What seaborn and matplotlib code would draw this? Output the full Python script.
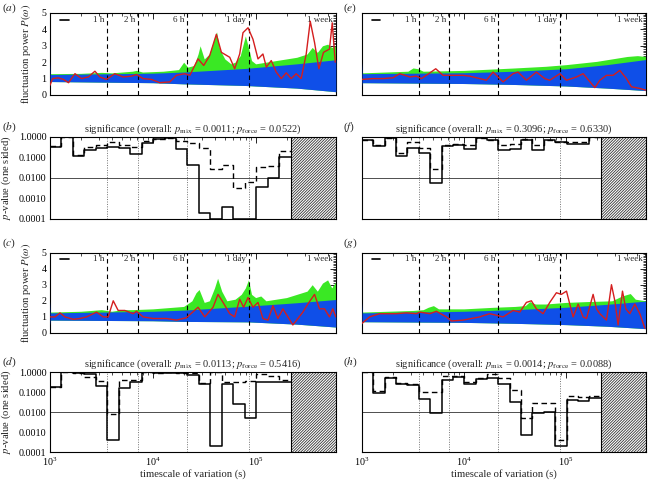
import numpy as np
import matplotlib
matplotlib.use("Agg")
import matplotlib.pyplot as plt
import seaborn as sns
from matplotlib.ticker import LogLocator, MultipleLocator, FuncFormatter, NullFormatter, FixedLocator

sns.set_theme(style="white")
plt.rcParams['font.family'] = ['Liberation Serif', 'DejaVu Serif']
plt.rcParams['mathtext.fontset'] = 'stix'
plt.rcParams['hatch.linewidth'] = 0.6
plt.rcParams['axes.edgecolor'] = 'black'
plt.rcParams['axes.linewidth'] = 0.8

BLUE = '#0f4fe8'
GREEN = '#3ae824'
RED = '#d41e1e'

# time markers (s)
mark_names = ['1 h', '2 h', '6 h', '1 day']
mark_secs = [3600, 7200, 21600, 86400]
t_max = 604800          # 1 week
hatch_start = 10**5.34  # no data beyond here
bin_edges = np.logspace(3, 5.34, 22)

# ---------- power spectra (log10 timescale, power) ----------
# (a)
a_band_t = [3.0, 3.004, 4.0, 4.3, 4.9, 5.4, 5.78]
a_band_lo = [0.5, 0.82, 0.75, 0.68, 0.58, 0.42, 0.2]
a_band_hi = [2.1, 1.25, 1.33, 1.4, 1.62, 1.9, 2.15]
a_green_t = [3.0, 3.3, 3.5, 3.6, 3.8, 3.84, 3.9, 4.1, 4.25, 4.3, 4.34, 4.4, 4.44, 4.46, 4.5, 4.55,
             4.6, 4.62, 4.65, 4.7, 4.76, 4.8, 4.85, 4.9, 4.93, 4.96, 5.0, 5.1, 5.2, 5.3, 5.4, 5.5,
             5.55, 5.6, 5.65, 5.7, 5.74, 5.78]
a_green_p = [1.3, 1.32, 1.38, 1.35, 1.45, 1.5, 1.4, 1.45, 1.55, 2.0, 1.7, 1.8, 2.5, 3.0, 2.2, 2.5,
             3.5, 3.85, 2.8, 2.2, 1.9, 2.0, 2.4, 3.6, 2.9, 2.1, 1.9, 2.0, 2.1, 2.2, 2.3, 2.5,
             2.9, 2.6, 3.0, 3.1, 2.9, 3.0]
a_red_t = [3.0, 3.026, 3.08, 3.13, 3.18, 3.243, 3.307, 3.372, 3.437, 3.485, 3.55, 3.63, 3.712, 3.793,
           3.841, 3.906, 3.987, 4.068, 4.165, 4.23, 4.31, 4.36, 4.44, 4.495, 4.553, 4.618, 4.667,
           4.748, 4.796, 4.845, 4.877, 4.926, 4.974, 5.023, 5.071, 5.104, 5.152, 5.2, 5.249, 5.298,
           5.346, 5.395, 5.443, 5.492, 5.531, 5.573, 5.615, 5.66, 5.718, 5.745, 5.774]
a_red_p = [0.6, 1.0, 1.05, 0.95, 0.75, 1.3, 1.0, 1.1, 1.45, 1.1, 0.95, 1.3, 1.1, 1.15,
           1.25, 1.0, 0.95, 0.75, 0.8, 1.2, 1.3, 1.2, 2.2, 1.8, 2.4, 3.7, 2.6,
           2.3, 1.6, 2.5, 3.8, 4.1, 3.4, 2.2, 2.5, 1.7, 2.1, 1.4, 1.0, 1.35,
           1.0, 1.3, 1.0, 2.5, 4.5, 3.2, 1.6, 2.6, 2.8, 4.4, 2.0]

# (c)
c_band_t = [3.0, 3.004, 4.0, 4.3, 4.93, 5.4, 5.78]
c_band_lo = [0.5, 0.8, 0.76, 0.72, 0.69, 0.55, 0.37]
c_band_hi = [2.0, 1.25, 1.35, 1.42, 1.67, 1.88, 2.08]
c_green_t = [3.0, 3.3, 3.5, 3.6, 3.7, 3.8, 4.0, 4.2, 4.3, 4.38, 4.42, 4.45, 4.5, 4.55, 4.6, 4.63,
             4.67, 4.72, 4.8, 4.86, 4.9, 4.93, 4.96, 5.0, 5.05, 5.1, 5.2, 5.3, 5.4, 5.5, 5.55, 5.6,
             5.65, 5.7, 5.74, 5.78]
c_green_p = [1.3, 1.35, 1.45, 1.35, 1.45, 1.45, 1.5, 1.6, 1.65, 2.0, 2.5, 2.7, 1.9, 2.0, 2.8, 3.4,
             2.6, 2.0, 2.1, 2.4, 2.8, 3.3, 2.4, 2.2, 2.3, 2.0, 2.1, 2.2, 2.4, 2.6, 3.0, 2.6,
             3.1, 3.3, 2.8, 3.2]
c_red_t = [3.0, 3.049, 3.097, 3.146, 3.227, 3.291, 3.356, 3.453, 3.518, 3.566, 3.615, 3.663, 3.728,
           3.809, 3.841, 3.906, 4.003, 4.133, 4.23, 4.327, 4.44, 4.505, 4.586, 4.634, 4.683, 4.748,
           4.796, 4.845, 4.883, 4.926, 4.974, 5.023, 5.071, 5.12, 5.168, 5.217, 5.265, 5.314, 5.362,
           5.411, 5.46, 5.508, 5.573, 5.621, 5.67, 5.718, 5.75, 5.78]
c_red_p = [1.0, 1.0, 1.25, 1.0, 0.85, 0.9, 1.0, 1.3, 1.0, 1.0, 2.0, 1.4, 1.4,
           1.2, 1.35, 1.0, 0.9, 0.9, 0.8, 0.95, 1.6, 1.0, 1.6, 2.4, 1.9, 1.2,
           1.0, 2.1, 1.6, 2.2, 1.6, 1.9, 0.9, 0.8, 1.7, 0.9, 1.5, 1.0, 0.5,
           0.9, 1.3, 1.8, 2.4, 1.5, 1.5, 1.0, 1.5, 1.0]

# (e)
e_band_t = [3.0, 3.004, 4.0, 4.5, 5.0, 5.4, 5.78]
e_band_lo = [0.5, 0.75, 0.7, 0.64, 0.55, 0.42, 0.27]
e_band_hi = [2.0, 1.3, 1.36, 1.45, 1.6, 1.85, 2.16]
e_green_t = [3.0, 3.45, 3.5, 3.55, 3.6, 4.0, 4.5, 4.8, 5.0, 5.3, 5.5, 5.6, 5.7, 5.78]
e_green_p = [1.35, 1.45, 1.65, 1.6, 1.45, 1.5, 1.65, 1.75, 1.85, 2.05, 2.25, 2.35, 2.4, 2.35]
e_red_t = [3.0, 3.108, 3.206, 3.304, 3.37, 3.468, 3.533, 3.582, 3.631, 3.723, 3.795, 3.99, 4.056,
           4.154, 4.22, 4.285, 4.383, 4.481, 4.53, 4.612, 4.71, 4.792, 4.84, 4.94, 5.005, 5.103,
           5.168, 5.283, 5.332, 5.397, 5.462, 5.528, 5.593, 5.642, 5.724, 5.78]
e_red_p = [0.95, 1.0, 1.0, 1.05, 1.3, 1.1, 1.15, 1.0, 1.2, 1.6, 1.2, 1.2, 1.15,
           1.0, 0.9, 1.4, 0.8, 1.3, 1.4, 0.9, 1.4, 1.0, 0.9, 1.3, 0.9, 1.1,
           1.3, 0.45, 0.9, 1.2, 1.2, 1.5, 1.0, 0.5, 0.4, 0.3]

# (g)
g_band_t = [3.0, 3.004, 4.0, 4.5, 5.0, 5.4, 5.78]
g_band_lo = [0.5, 0.7, 0.66, 0.6, 0.52, 0.42, 0.27]
g_band_hi = [1.9, 1.25, 1.35, 1.45, 1.6, 1.78, 1.98]
g_green_t = [3.0, 3.5, 3.6, 3.65, 3.7, 3.75, 4.0, 4.3, 4.5, 4.6, 4.645, 4.7, 4.8, 5.0, 5.2, 5.45,
             5.55, 5.63, 5.68, 5.78]
g_green_p = [1.3, 1.4, 1.45, 1.6, 1.7, 1.5, 1.5, 1.6, 1.65, 1.7, 1.95, 1.8, 1.8, 1.9, 1.95, 2.0,
             2.3, 2.45, 2.1, 2.0]
g_red_t = [3.0, 3.075, 3.173, 3.337, 3.435, 3.533, 3.566, 3.664, 3.729, 3.827, 3.876, 3.991, 4.154,
           4.252, 4.383, 4.481, 4.547, 4.612, 4.661, 4.71, 4.776, 4.841, 4.906, 4.955, 5.005, 5.037,
           5.07, 5.119, 5.168, 5.201, 5.266, 5.299, 5.332, 5.397, 5.446, 5.479, 5.511, 5.554, 5.587,
           5.626, 5.675, 5.724, 5.773]
g_red_p = [0.6, 1.0, 1.2, 1.2, 1.25, 1.2, 1.3, 1.2, 1.35, 1.0, 0.75, 0.8, 1.0,
           1.2, 1.0, 1.4, 1.3, 1.9, 2.0, 1.5, 1.2, 1.9, 2.5, 2.4, 2.6, 1.8,
           1.0, 1.8, 1.0, 0.9, 2.4, 1.5, 1.2, 0.8, 3.0, 2.0, 0.5, 2.6, 1.5,
           1.2, 1.8, 1.2, 0.3]

# ---------- p-values per bin (21 bins) ----------
b_solid = [0.33, 0.95, 0.12, 0.22, 0.30, 0.33, 0.29, 0.15, 0.53, 0.77, 0.9,
           0.25, 0.045, 0.0002, 0.0001, 0.0004, 0.0001, 0.0001, 0.0037, 0.0095, 0.11]
b_dashed = [0.35, 0.95, 0.13, 0.33, 0.42, 0.57, 0.42, 0.33, 0.64, 0.83, 0.93,
            0.64, 0.5, 0.29, 0.029, 0.045, 0.0031, 0.0065, 0.035, 0.039, 0.2]
d_solid = [0.17, 0.95, 0.9, 0.82, 0.19, 0.0004, 0.16, 0.33, 0.95, 0.9, 0.9,
           0.85, 0.68, 0.25, 0.0002, 0.25, 0.026, 0.005, 0.3, 0.3, 0.33]
d_dashed = [0.17, 0.95, 0.92, 0.55, 0.37, 0.0083, 0.42, 0.42, 0.95, 0.9, 0.95,
            0.92, 0.9, 0.28, 0.95, 0.3, 0.33, 0.37, 0.75, 0.62, 0.4]
f_solid = [0.69, 0.36, 0.9, 0.12, 0.29, 0.16, 0.006, 0.35, 0.39, 0.27, 0.9,
           0.74, 0.22, 0.25, 0.68, 0.24, 0.74, 0.57, 0.47, 0.47, 0.95]
f_dashed = [0.69, 0.4, 0.9, 0.16, 0.6, 0.29, 0.026, 0.39, 0.47, 0.42, 0.9,
            0.68, 0.42, 0.47, 0.83, 0.42, 0.68, 0.55, 0.57, 0.55, 0.95]
h_solid = [0.98, 0.087, 0.52, 0.25, 0.23, 0.044, 0.0085, 0.4, 0.59, 0.25, 0.43,
           0.52, 0.25, 0.032, 0.00067, 0.0085, 0.0096, 0.00019, 0.039, 0.034, 0.053]
h_dashed = [0.98, 0.11, 0.56, 0.27, 0.25, 0.095, 0.095, 0.63, 0.63, 0.33, 0.52,
            0.76, 0.49, 0.12, 0.005, 0.027, 0.027, 0.00038, 0.065, 0.058, 0.065]

titles = {
    'b': ('0.0011', '0.0522'), 'd': ('0.0113', '0.5416'),
    'f': ('0.3096', '0.6330'), 'h': ('0.0014', '0.0088'),
}

FS = 7.2
W, H = 649, 482
fig = plt.figure(figsize=(W / 100, H / 100), dpi=100)


def add_ax(x0, x1, y0, y1):
    return fig.add_axes([x0 / W, 1 - y1 / H, (x1 - x0) / W, (y1 - y0) / H])


def style_x(ax, show_labels):
    ax.set_xscale('log')
    ax.set_xlim(1e3, t_max)
    ax.xaxis.set_major_locator(LogLocator(base=10, numticks=10))
    ax.xaxis.set_minor_locator(LogLocator(base=10, subs=np.arange(2, 10), numticks=20))
    ax.xaxis.set_minor_formatter(NullFormatter())
    if not show_labels:
        ax.xaxis.set_major_formatter(NullFormatter())
    ax.tick_params(which='both', direction='in', top=True, right=True, labelsize=FS,
                   colors='black', pad=2.5)
    ax.tick_params(which='major', length=4, width=0.6)
    ax.tick_params(which='minor', length=2, width=0.5)


def power_panel(ax, band_t, band_lo, band_hi, green_t, green_p, red_t, red_p, left):
    bt = 10 ** np.array(band_t)
    ax.fill_between(10 ** np.array(green_t), 0, green_p, color=GREEN, lw=0, zorder=1)
    ax.fill_between(bt, 0, band_lo, color='white', lw=0, zorder=2)
    ax.fill_between(bt, band_lo, band_hi, color=BLUE, lw=0, zorder=3)
    sns.lineplot(x=10 ** np.array(red_t), y=red_p, ax=ax, color=RED, lw=1.0, zorder=6, sort=False)
    for name, s in zip(mark_names, mark_secs):
        ax.axvline(s, color='black', lw=0.8, ls=(0, (4, 3)), zorder=5)
        ax.annotate(name, (s, 4.6), xytext=(-2, 0), textcoords='offset points',
                    ha='right', va='center', fontsize=FS - 0.7)
    ax.annotate('1 week', (t_max, 4.6), xytext=(-2, 0), textcoords='offset points',
                ha='right', va='center', fontsize=FS - 0.7)
    ax.plot([0.035, 0.065], [0.92, 0.92], color='black', lw=1.2, transform=ax.transAxes)
    style_x(ax, False)
    ax.set_ylim(0, 5)
    ax.yaxis.set_major_locator(MultipleLocator(1))
    ax.yaxis.set_minor_locator(MultipleLocator(0.1))
    ax.set_xlabel('')
    if left:
        ax.set_ylabel(r'fluctuation power $P(\omega)$', fontsize=FS + 0.5)
        ax.yaxis.set_label_coords(-0.058, 0.5)
    else:
        ax.set_yticklabels([])
        ax.set_ylabel('')


def pvalue_panel(ax, solid, dashed, key, left, bottom):
    for s in mark_secs:
        ax.axvline(s, color='0.45', lw=0.7, ls=(0, (1, 1.5)), zorder=1)
    ax.axhline(0.01, color='0.3', lw=0.7, zorder=1)
    ax.axvspan(hatch_start, t_max, facecolor='white', edgecolor='0.2', hatch='////////////',
               lw=0, zorder=2)
    ax.axvline(hatch_start, color='black', lw=0.8, zorder=3)
    sns.lineplot(x=bin_edges, y=np.append(solid, solid[-1]), ax=ax, color='black', lw=1.1,
                 drawstyle='steps-post', zorder=4, sort=False)
    sns.lineplot(x=bin_edges, y=np.append(dashed, dashed[-1]), ax=ax, color='black', lw=1.0,
                 linestyle=(0, (4, 2.5)), drawstyle='steps-post', zorder=5, sort=False)
    style_x(ax, bottom)
    ax.set_yscale('log')
    ax.set_ylim(1e-4, 1)
    ax.yaxis.set_major_locator(FixedLocator([1e-4, 1e-3, 1e-2, 1e-1, 1]))
    ax.yaxis.set_minor_locator(LogLocator(base=10, subs=np.arange(2, 10), numticks=20))
    ax.yaxis.set_minor_formatter(NullFormatter())
    if left:
        ax.yaxis.set_major_formatter(FuncFormatter(lambda v, p: f'{v:.4f}'))
        ax.set_ylabel(r'$p$-value (one sided)', fontsize=FS + 0.5)
        ax.yaxis.set_label_coords(-0.128, 0.5)
    else:
        ax.yaxis.set_major_formatter(NullFormatter())
        ax.set_ylabel('')
    pm, pf = titles[key]
    ax.set_title(r'significance (overall: $p_{\rm mix}$ = ' + pm + r'; $p_{\rm force}$ = ' + pf + ')',
                 fontsize=FS + 0.3, pad=4)
    if bottom:
        ax.set_xlabel('timescale of variation (s)', fontsize=FS + 0.5, labelpad=1)
    else:
        ax.set_xlabel('')


cols = [(50, 336), (362, 645.7)]
rows = [(13, 95), (137, 219), (252.5, 333), (372, 452)]

ax_a = add_ax(*cols[0], *rows[0])
power_panel(ax_a, a_band_t, a_band_lo, a_band_hi, a_green_t, a_green_p, a_red_t, a_red_p, True)
ax_b = add_ax(*cols[0], *rows[1])
pvalue_panel(ax_b, b_solid, b_dashed, 'b', True, False)
ax_c = add_ax(*cols[0], *rows[2])
power_panel(ax_c, c_band_t, c_band_lo, c_band_hi, c_green_t, c_green_p, c_red_t, c_red_p, True)
ax_d = add_ax(*cols[0], *rows[3])
pvalue_panel(ax_d, d_solid, d_dashed, 'd', True, True)

ax_e = add_ax(*cols[1], *rows[0])
power_panel(ax_e, e_band_t, e_band_lo, e_band_hi, e_green_t, e_green_p, e_red_t, e_red_p, False)
ax_f = add_ax(*cols[1], *rows[1])
pvalue_panel(ax_f, f_solid, f_dashed, 'f', False, False)
ax_g = add_ax(*cols[1], *rows[2])
power_panel(ax_g, g_band_t, g_band_lo, g_band_hi, g_green_t, g_green_p, g_red_t, g_red_p, False)
ax_h = add_ax(*cols[1], *rows[3])
pvalue_panel(ax_h, h_solid, h_dashed, 'h', False, True)

# panel letters
letters = [('a', 2, 8), ('b', 2, 127), ('c', 2, 243), ('d', 2, 362),
           ('e', 343, 8), ('f', 343, 127), ('g', 343, 243), ('h', 343, 362)]
for lt, px, py in letters:
    fig.text(px / W, 1 - py / H, '($' + lt + '$)', fontsize=FS + 1, va='center', ha='left')

fig.savefig('out.png', dpi=100)
